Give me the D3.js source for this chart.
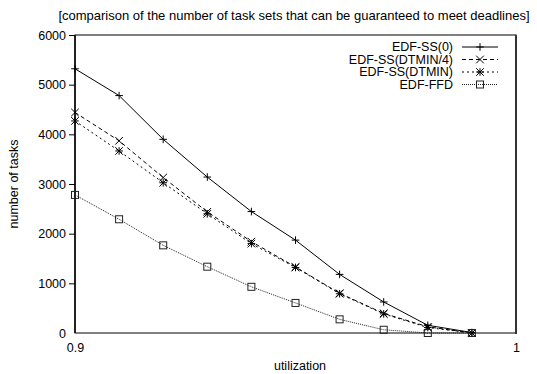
<!DOCTYPE html>
<html>
<head>
<meta charset="utf-8">
<script src="https://cdn.jsdelivr.net/npm/d3@7"></script>
<style>
    body { margin: 0; background: #fff; }
    svg text { font-family: "Liberation Sans", Arial, sans-serif; fill: #000; }
</style>
</head>
<body>
<svg id="chart" width="537" height="374"></svg>
<script>
const utilization = [0.90, 0.91, 0.92, 0.93, 0.94, 0.95, 0.96, 0.97, 0.98, 0.99];
const edfSs0 = [5320, 4780, 3900, 3140, 2445, 1870, 1180, 625, 155, 10];
const edfSsDtmin4 = [4440, 3870, 3130, 2440, 1840, 1330, 800, 395, 125, 0];
const edfSsDtmin = [4270, 3665, 3025, 2400, 1800, 1320, 790, 385, 110, 0];
const edfFfd = [2780, 2290, 1765, 1335, 930, 605, 275, 65, 0, 0];
const yTicks = [0, 1000, 2000, 3000, 4000, 5000, 6000];
const xTicks = [0.9, 1];

const series = [
    {name: "EDF-SS(0)", values: edfSs0, dash: null, color: "#000", marker: "plus"},
    {name: "EDF-SS(DTMIN/4)", values: edfSsDtmin4, dash: "4,3", color: "#000", marker: "cross"},
    {name: "EDF-SS(DTMIN)", values: edfSsDtmin, dash: "2,3", color: "#000", marker: "star"},
    {name: "EDF-FFD", values: edfFfd, dash: "1,1", color: "#222", marker: "square"}
];

const margins = {left: 75, right: 21, top: 35, bottom: 41};
const width = 537, height = 374;
const fontFamily = "Liberation Sans, Arial, sans-serif";

const svg = d3.select("#chart");

const scaleX = d3.scaleLinear()
    .domain([0.9, 1])
    .range([margins.left, width - margins.right]);

const scaleY = d3.scaleLinear()
    .domain([0, 6000])
    .range([height - margins.bottom, margins.top]);

// frame
svg.append("rect")
    .attr("x", margins.left)
    .attr("y", margins.top)
    .attr("width", scaleX.range()[1] - margins.left)
    .attr("height", scaleY.range()[0] - margins.top)
    .attr("fill", "none")
    .attr("stroke", "#000")
    .attr("stroke-width", 1);

// thicker left and right sides
svg.append("line")
    .attr("x1", margins.left).attr("x2", margins.left)
    .attr("y1", margins.top).attr("y2", scaleY(0))
    .attr("stroke", "#222").attr("stroke-width", 2);
svg.append("line")
    .attr("x1", scaleX(1)).attr("x2", scaleX(1))
    .attr("y1", margins.top).attr("y2", scaleY(0) + 1)
    .attr("stroke", "#333").attr("stroke-width", 2);

const yAxis = d3.axisLeft(scaleY)
    .tickValues(yTicks)
    .tickSize(6)
    .tickPadding(3)
    .tickFormat(d3.format("d"));

const yG = svg.append("g")
    .attr("transform", `translate(${margins.left}, 0)`)
    .call(yAxis);
yG.select(".domain").remove();
yG.selectAll("line").attr("stroke", "#000");
yG.selectAll("text").attr("font-size", 12.5).style("font-family", fontFamily);
yG.selectAll(".tick").filter(d => d === 0).select("line").remove();

const xAxis = d3.axisBottom(scaleX)
    .tickValues(xTicks)
    .tickSize(0)
    .tickPadding(10)
    .tickFormat(d => d === 1 ? "1" : d3.format(".1f")(d));

const xG = svg.append("g")
    .attr("transform", `translate(0, ${scaleY(0)})`)
    .call(xAxis);
xG.select(".domain").remove();
xG.selectAll("text").attr("font-size", 12.5).style("font-family", fontFamily);

// labels
svg.append("text")
    .attr("x", 294)
    .attr("y", 20)
    .attr("text-anchor", "middle")
    .attr("font-size", 13)
    .text("[comparison of the number of task sets that can be guaranteed to meet deadlines]");

svg.append("text")
    .attr("x", 300)
    .attr("y", 370)
    .attr("text-anchor", "middle")
    .attr("font-size", 12.5)
    .text("utilization");

svg.append("text")
    .attr("transform", `translate(18, ${(margins.top + scaleY(0)) / 2}) rotate(-90)`)
    .attr("text-anchor", "middle")
    .attr("font-size", 12.5)
    .text("number of tasks");

function drawMarker(g, type, x, y, color) {
    const s = 3.8;
    if (type === "plus" || type === "star") {
        g.append("path")
            .attr("d", `M${x - s},${y}H${x + s}M${x},${y - s}V${y + s}`)
            .attr("stroke", color).attr("stroke-width", 1).attr("fill", "none");
    }
    if (type === "cross" || type === "star") {
        g.append("path")
            .attr("d", `M${x - s},${y - s}L${x + s},${y + s}M${x - s},${y + s}L${x + s},${y - s}`)
            .attr("stroke", color).attr("stroke-width", 1).attr("fill", "none");
    }
    if (type === "square") {
        g.append("rect")
            .attr("x", x - 3.5).attr("y", y - 3.5)
            .attr("width", 7).attr("height", 7)
            .attr("stroke", color).attr("stroke-width", 1).attr("fill", "none");
    }
}

const line = d3.line()
    .x((d, i) => scaleX(utilization[i]))
    .y(d => scaleY(d));

series.forEach(s => {
    const g = svg.append("g");
    g.append("path")
        .datum(s.values)
        .attr("d", line)
        .attr("fill", "none")
        .attr("stroke", s.color)
        .attr("stroke-width", 1)
        .attr("stroke-dasharray", s.dash);
    s.values.forEach((v, i) => drawMarker(g, s.marker, scaleX(utilization[i]), scaleY(v), s.color));
});

// legend
const legendTextX = 453;
const legendLineX1 = 462;
const legendLineX2 = 498;
series.forEach((s, i) => {
    const y = 47 + i * 12.5;
    svg.append("text")
        .attr("x", legendTextX)
        .attr("y", y)
        .attr("dy", "0.35em")
        .attr("text-anchor", "end")
        .attr("font-size", 12.5)
        .text(s.name);
    const g = svg.append("g");
    g.append("line")
        .attr("x1", legendLineX1).attr("x2", legendLineX2)
        .attr("y1", y).attr("y2", y)
        .attr("stroke", s.color)
        .attr("stroke-width", 1)
        .attr("stroke-dasharray", s.dash);
    drawMarker(g, s.marker, (legendLineX1 + legendLineX2) / 2, y, s.color);
});
</script>
</body>
</html>
